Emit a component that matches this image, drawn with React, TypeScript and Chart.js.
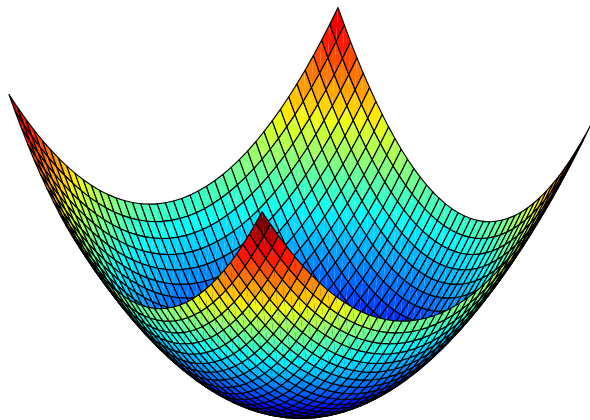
import { useEffect, useRef } from "react";
import { Chart, registerables } from "chart.js";

Chart.register(...registerables);

// Grid positions of the mesh along each horizontal axis.
const gridX = [-1,-0.95,-0.9,-0.85,-0.8,-0.75,-0.7,-0.65,-0.6,-0.55,-0.5,-0.45,-0.4,-0.35,-0.3,-0.25,-0.2,-0.15,-0.1,-0.05,0,0.05,0.1,0.15,0.2,0.25,0.3,0.35,0.4,0.45,0.5,0.55,0.6,0.65,0.7,0.75,0.8,0.85,0.9,0.95,1];
const gridY = [-1,-0.95,-0.9,-0.85,-0.8,-0.75,-0.7,-0.65,-0.6,-0.55,-0.5,-0.45,-0.4,-0.35,-0.3,-0.25,-0.2,-0.15,-0.1,-0.05,0,0.05,0.1,0.15,0.2,0.25,0.3,0.35,0.4,0.45,0.5,0.55,0.6,0.65,0.7,0.75,0.8,0.85,0.9,0.95,1];
// Height contributed by each grid line; a vertex height is the sum of its two lines.
const heightX = [1,0.9025,0.81,0.7225,0.64,0.5625,0.49,0.4225,0.36,0.3025,0.25,0.2025,0.16,0.1225,0.09,0.0625,0.04,0.0225,0.01,0.0025,0,0.0025,0.01,0.0225,0.04,0.0625,0.09,0.1225,0.16,0.2025,0.25,0.3025,0.36,0.4225,0.49,0.5625,0.64,0.7225,0.81,0.9025,1];
const heightY = [1,0.9025,0.81,0.7225,0.64,0.5625,0.49,0.4225,0.36,0.3025,0.25,0.2025,0.16,0.1225,0.09,0.0625,0.04,0.0225,0.01,0.0025,0,0.0025,0.01,0.0225,0.04,0.0625,0.09,0.1225,0.16,0.2025,0.25,0.3025,0.36,0.4225,0.49,0.5625,0.64,0.7225,0.81,0.9025,1];

const colorLimits = [0, 2];
const redStops = [[0, 0], [0.4, 0], [0.66, 1], [0.89, 1], [1, 0.5]];
const greenStops = [[0, 0], [0.125, 0], [0.41, 1], [0.64, 1], [0.88, 0], [1, 0]];
const blueStops = [[0, 0.5], [0.11, 1], [0.4, 1], [0.66, 0], [1, 0]];

const project = (x: number, y: number, z: number) => ({
  x: 300 + 164.5 * x - 126.5 * y,
  y: 409.5 - 43.5 * x - 58.5 * y - 150 * z,
});
const farness = (x: number, y: number, z: number) =>
  0.937 * 207 * (0.609 * x + 0.793 * y) - 0.35 * 160 * z;

function ramp(stops: number[][], t: number) {
  for (let k = 1; k < stops.length; k++) {
    if (t <= stops[k][0]) {
      const [a, va] = stops[k - 1];
      const [b, vb] = stops[k];
      return va + ((t - a) / (b - a)) * (vb - va);
    }
  }
  return stops[stops.length - 1][1];
}

function jet(z: number) {
  const t = Math.max(0, Math.min(1, (z - colorLimits[0]) / (colorLimits[1] - colorLimits[0])));
  const ch = (s: number[][]) => Math.round(255 * ramp(s, t));
  return `rgb(${ch(redStops)},${ch(greenStops)},${ch(blueStops)})`;
}

function buildDatasets() {
  const quads: any[] = [];
  for (let i = 0; i < gridX.length - 1; i++) {
    for (let j = 0; j < gridY.length - 1; j++) {
      const corners = [
        [i, j],
        [i + 1, j],
        [i + 1, j + 1],
        [i, j + 1],
      ].map(([a, b]) => [gridX[a], gridY[b], heightX[a] + heightY[b]]);
      const mean = corners.reduce((s, c) => [s[0] + c[0] / 4, s[1] + c[1] / 4, s[2] + c[2] / 4], [0, 0, 0]);
      quads.push({
        depth: farness(mean[0], mean[1], mean[2]),
        color: jet(corners[0][2]),
        pts: corners.map(([x, y, z]) => project(x, y, z)),
      });
    }
  }
  // Chart.js paints the first dataset last, so the nearest face goes first.
  quads.sort((p, q) => p.depth - q.depth);
  const common = { showLine: true, pointRadius: 0, tension: 0, clip: false };
  const sets: any[] = [];
  for (const q of quads) {
    const [p0, p1, p2, p3] = q.pts;
    sets.push({ ...common, data: [p0, p1, p2, p3, p0], fill: false, borderColor: "#000000", borderWidth: 1.15, borderJoinStyle: "round" });
    sets.push({ ...common, data: [p0, p1, p2, p0], fill: "shape", backgroundColor: q.color, borderWidth: 0 });
    sets.push({ ...common, data: [p0, p2, p3, p0], fill: "shape", backgroundColor: q.color, borderWidth: 0 });
  }
  return sets;
}

export default function App() {
  const ref = useRef<HTMLCanvasElement>(null);
  useEffect(() => {
    document.body.style.margin = "0";
    const chart = new Chart(ref.current!, {
      type: "scatter",
      data: { datasets: buildDatasets() as any },
      options: {
        animation: false,
        responsive: false,
        events: [],
        layout: { padding: 0 },
        plugins: { legend: { display: false }, tooltip: { enabled: false } },
        scales: {
          x: { type: "linear", display: false, min: 0, max: 590 },
          y: { type: "linear", display: false, min: 0, max: 420, reverse: true },
        },
      },
    });
    return () => chart.destroy();
  }, []);
  return <canvas ref={ref} width={590} height={420} style={{ display: "block", background: "#fff" }} />;
}
